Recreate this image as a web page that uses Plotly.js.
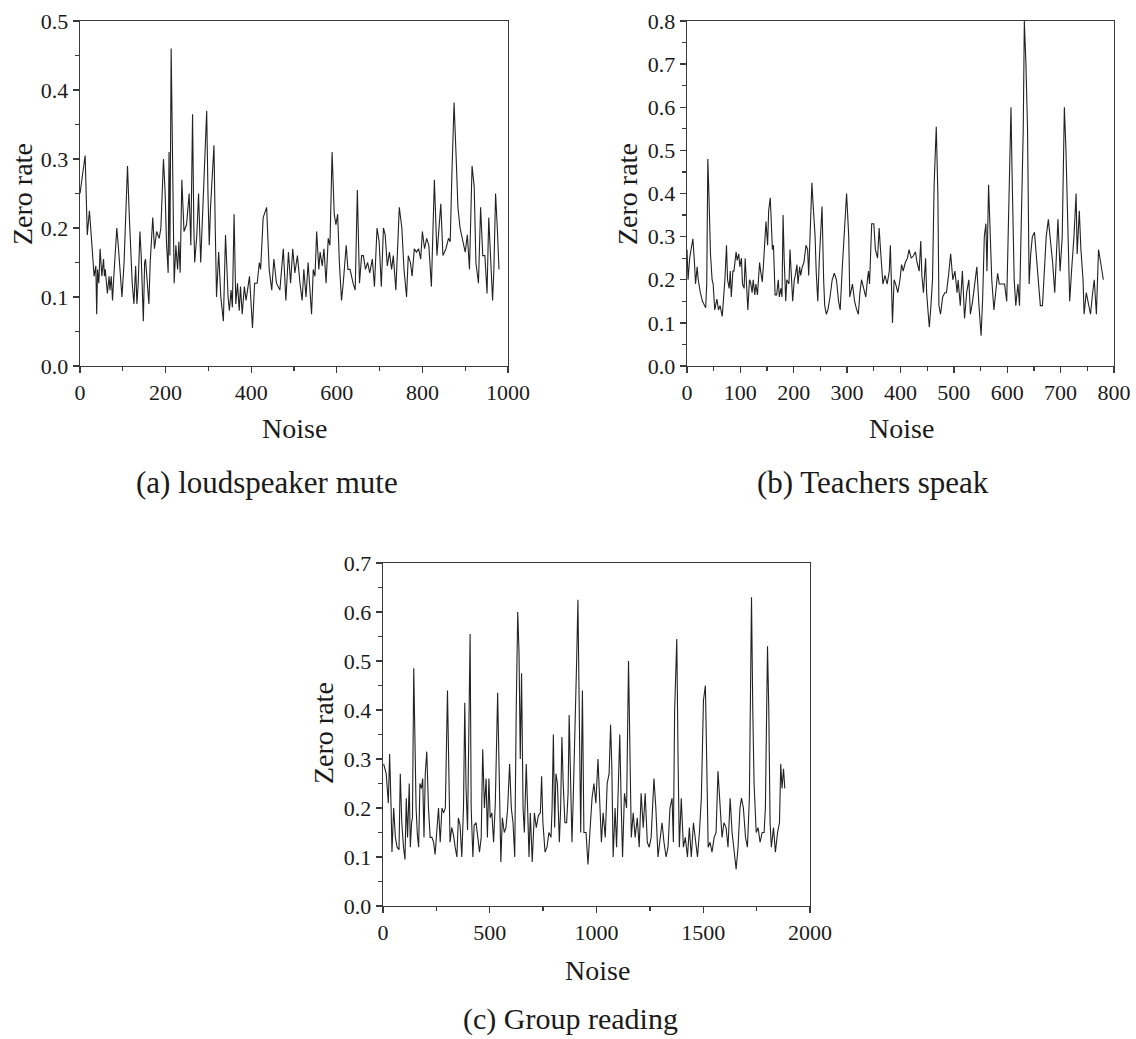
<!DOCTYPE html>
<html>
<head>
<meta charset="utf-8">
<script src="https://cdn.plot.ly/plotly-3.0.1.min.js"></script>
<style>
  html, body { margin: 0; padding: 0; background: #ffffff; }
  #chart { width: 1136px; height: 1039px; }
</style>
</head>
<body>
<div id="chart"></div>
<script>
// ---------- Data ----------
const titles = ["(a) loudspeaker mute", "(b) Teachers speak", "(c) Group reading"];
const xTitle = "Noise";
const yTitle = "Zero rate";

const aNoise = [
  0,12,17,22,25,30,33,37,39,41,
  44,47,51,55,57,59,64,68,70,73,
  76,79,86,90,95,98,103,111,115,119,
  122,126,130,133,136,140,143,148,151,153,
  157,161,164,170,174,179,185,189,195,199,
  202,206,208,210,213,217,220,224,228,231,
  234,238,243,249,255,259,263,266,268,273,
  277,282,286,290,293,296,299,302,305,313,
  316,319,324,329,335,340,346,349,353,356,
  360,364,368,372,375,379,384,388,396,403,
  408,414,419,422,428,436,442,448,453,459,
  467,475,481,487,492,497,502,508,514,519,
  523,528,533,536,541,545,549,553,558,561,
  566,570,575,580,584,589,594,598,602,606,
  611,615,622,626,631,638,643,648,653,658,
  662,667,672,677,683,688,694,699,704,709,
  713,718,723,728,732,738,742,746,752,757,
  763,767,772,776,781,786,791,796,800,805,
  810,815,821,828,834,839,843,848,855,861,
  865,869,874,879,883,888,894,900,905,910,
  916,921,925,931,936,941,946,951,955,960,
  964,967,971,975,979
];
const aZero = [
  0.25,0.305,0.19,0.225,0.2,0.15,0.13,0.145,0.075,0.14,
  0.12,0.17,0.13,0.155,0.13,0.14,0.105,0.13,0.11,0.13,
  0.095,0.13,0.2,0.17,0.12,0.1,0.15,0.29,0.22,0.15,
  0.12,0.09,0.145,0.09,0.12,0.195,0.16,0.065,0.15,0.155,
  0.12,0.09,0.15,0.215,0.17,0.195,0.185,0.2,0.3,0.25,
  0.18,0.135,0.31,0.16,0.46,0.3,0.12,0.175,0.14,0.18,
  0.135,0.27,0.195,0.205,0.25,0.175,0.365,0.2,0.15,0.19,
  0.25,0.15,0.21,0.255,0.3,0.37,0.25,0.175,0.23,0.32,
  0.2,0.1,0.165,0.1,0.065,0.19,0.1,0.08,0.11,0.085,
  0.22,0.09,0.12,0.08,0.115,0.075,0.115,0.095,0.13,0.055,
  0.12,0.12,0.15,0.14,0.215,0.23,0.14,0.11,0.155,0.12,
  0.11,0.17,0.095,0.165,0.12,0.17,0.135,0.16,0.12,0.095,
  0.14,0.1,0.15,0.125,0.075,0.14,0.13,0.195,0.14,0.165,
  0.145,0.17,0.12,0.185,0.175,0.31,0.22,0.205,0.22,0.15,
  0.095,0.12,0.175,0.14,0.14,0.12,0.11,0.255,0.12,0.16,
  0.16,0.14,0.15,0.135,0.155,0.115,0.2,0.18,0.115,0.2,
  0.19,0.145,0.165,0.14,0.16,0.11,0.17,0.23,0.2,0.14,
  0.1,0.16,0.15,0.13,0.17,0.165,0.17,0.155,0.195,0.17,
  0.185,0.175,0.115,0.27,0.16,0.2,0.235,0.16,0.17,0.185,
  0.18,0.28,0.382,0.3,0.23,0.2,0.18,0.165,0.19,0.14,
  0.29,0.26,0.15,0.12,0.23,0.16,0.16,0.105,0.215,0.15,
  0.095,0.14,0.25,0.2,0.14
];

const bNoise = [
  0,2,5,9,11,14,16,19,21,25,
  29,33,35,37,39,41,44,47,49,52,
  56,59,62,66,68,71,74,76,79,81,
  83,86,88,92,94,97,99,102,104,107,
  109,112,114,117,119,122,124,127,129,132,
  136,138,141,143,146,148,151,153,156,158,
  160,162,165,168,171,173,176,178,180,182,
  185,187,191,193,196,198,201,203,206,208,
  211,213,216,219,223,226,228,231,234,236,
  240,242,245,248,251,253,256,258,261,264,
  268,272,276,280,284,287,291,295,299,303,
  305,310,314,318,321,324,327,331,335,338,
  340,342,346,350,353,357,360,362,365,367,
  371,375,379,381,385,388,391,395,399,402,
  405,409,413,416,420,424,428,431,435,438,
  440,443,447,449,452,454,457,460,463,467,
  470,472,475,479,483,486,490,494,498,502,
  506,508,512,516,520,524,528,531,535,539,
  543,547,551,554,557,560,562,565,568,571,
  575,579,582,585,590,595,599,603,607,609,
  613,616,620,623,627,630,632,635,638,641,
  644,647,651,655,658,662,666,670,673,677,
  681,685,689,693,695,699,703,707,710,713,
  717,721,725,729,731,735,738,742,744,748,
  752,756,760,763,767,771,775,780
];
const bZero = [
  0.27,0.2,0.25,0.28,0.295,0.24,0.19,0.23,0.2,0.17,
  0.15,0.14,0.135,0.19,0.48,0.4,0.26,0.2,0.19,0.13,
  0.155,0.13,0.14,0.115,0.15,0.2,0.28,0.2,0.18,0.22,
  0.16,0.22,0.22,0.265,0.245,0.26,0.23,0.25,0.19,0.18,
  0.25,0.175,0.13,0.2,0.195,0.17,0.2,0.165,0.19,0.165,
  0.24,0.22,0.195,0.23,0.3,0.335,0.28,0.36,0.39,0.3,
  0.27,0.28,0.165,0.165,0.2,0.16,0.18,0.16,0.35,0.25,
  0.15,0.2,0.19,0.27,0.2,0.15,0.2,0.21,0.235,0.19,
  0.23,0.21,0.23,0.24,0.28,0.27,0.21,0.3,0.425,0.38,
  0.3,0.22,0.15,0.25,0.34,0.37,0.2,0.14,0.12,0.13,
  0.16,0.2,0.215,0.2,0.15,0.13,0.23,0.32,0.4,0.3,
  0.16,0.19,0.15,0.13,0.12,0.17,0.2,0.18,0.16,0.2,
  0.22,0.19,0.33,0.33,0.27,0.25,0.32,0.28,0.23,0.19,
  0.21,0.19,0.22,0.28,0.1,0.2,0.19,0.17,0.2,0.235,
  0.22,0.24,0.25,0.27,0.25,0.255,0.265,0.24,0.22,0.29,
  0.21,0.17,0.25,0.17,0.12,0.09,0.14,0.2,0.42,0.555,
  0.4,0.14,0.12,0.16,0.17,0.17,0.21,0.26,0.2,0.22,
  0.17,0.2,0.14,0.22,0.11,0.17,0.2,0.12,0.15,0.19,
  0.23,0.14,0.07,0.16,0.3,0.33,0.22,0.42,0.3,0.2,
  0.13,0.18,0.215,0.19,0.19,0.19,0.15,0.35,0.6,0.45,
  0.2,0.14,0.19,0.14,0.35,0.55,0.8,0.7,0.55,0.19,
  0.26,0.3,0.31,0.24,0.2,0.14,0.14,0.22,0.3,0.34,
  0.29,0.24,0.17,0.3,0.34,0.22,0.3,0.6,0.5,0.35,
  0.15,0.23,0.3,0.4,0.26,0.36,0.27,0.2,0.12,0.17,
  0.14,0.12,0.17,0.2,0.12,0.27,0.24,0.2
];

const cNoise = [
  3,15,25,31,38,42,50,58,66,75,
  81,88,96,103,109,115,123,128,134,138,
  144,150,155,161,167,173,180,186,192,198,
  205,213,221,229,237,244,252,260,268,276,
  284,292,302,308,314,322,330,338,346,353,
  361,369,377,383,389,396,402,408,413,421,
  427,436,444,452,460,467,475,483,489,496,
  502,510,518,526,537,545,552,559,568,576,
  584,593,601,609,617,624,631,637,643,649,
  656,662,671,678,684,690,699,709,718,728,
  737,743,749,759,768,777,787,792,798,804,
  810,817,826,832,838,844,852,860,867,872,
  878,885,891,899,907,913,919,926,934,941,
  951,960,969,979,988,997,1007,1016,1023,1031,
  1041,1050,1059,1066,1072,1078,1087,1094,1103,1109,
  1116,1122,1131,1141,1150,1157,1163,1172,1181,1191,
  1200,1209,1219,1228,1238,1247,1256,1269,1278,1288,
  1297,1307,1316,1326,1335,1344,1354,1360,1366,1376,
  1382,1388,1397,1407,1416,1426,1435,1444,1454,1463,
  1473,1482,1491,1501,1510,1516,1523,1532,1541,1551,
  1560,1569,1579,1588,1597,1607,1616,1626,1635,1644,
  1654,1663,1672,1679,1688,1698,1707,1716,1726,1732,
  1738,1748,1757,1766,1776,1785,1791,1801,1807,1813,
  1819,1829,1838,1848,1857,1863,1869,1876,1882
];
const cZero = [
  0.29,0.27,0.21,0.31,0.2,0.11,0.2,0.14,0.12,0.115,
  0.27,0.17,0.12,0.095,0.22,0.14,0.25,0.12,0.17,0.18,
  0.485,0.35,0.2,0.145,0.12,0.25,0.24,0.26,0.14,0.27,
  0.315,0.2,0.14,0.14,0.13,0.105,0.16,0.2,0.13,0.2,
  0.19,0.2,0.44,0.3,0.13,0.16,0.145,0.12,0.1,0.18,
  0.165,0.1,0.2,0.415,0.24,0.155,0.41,0.555,0.2,0.1,
  0.165,0.17,0.14,0.11,0.14,0.32,0.2,0.26,0.14,0.26,
  0.18,0.19,0.13,0.21,0.435,0.2,0.09,0.18,0.15,0.16,
  0.2,0.29,0.2,0.17,0.1,0.4,0.6,0.52,0.3,0.475,
  0.2,0.15,0.29,0.19,0.1,0.19,0.09,0.19,0.16,0.185,
  0.19,0.265,0.17,0.11,0.12,0.15,0.14,0.2,0.35,0.16,
  0.27,0.25,0.13,0.2,0.345,0.25,0.17,0.17,0.23,0.39,
  0.28,0.13,0.22,0.4,0.5,0.625,0.4,0.15,0.44,0.15,
  0.15,0.085,0.15,0.22,0.25,0.21,0.3,0.2,0.13,0.19,
  0.14,0.25,0.27,0.37,0.28,0.1,0.2,0.12,0.26,0.35,
  0.2,0.1,0.23,0.2,0.5,0.3,0.14,0.19,0.14,0.18,
  0.12,0.23,0.16,0.23,0.13,0.12,0.14,0.26,0.2,0.1,
  0.14,0.17,0.13,0.1,0.12,0.2,0.22,0.13,0.4,0.545,
  0.3,0.12,0.22,0.12,0.14,0.1,0.16,0.1,0.17,0.13,
  0.1,0.15,0.22,0.42,0.45,0.3,0.12,0.13,0.11,0.14,
  0.15,0.275,0.2,0.14,0.17,0.16,0.12,0.22,0.15,0.12,
  0.075,0.12,0.2,0.22,0.2,0.14,0.12,0.22,0.63,0.4,
  0.25,0.15,0.16,0.13,0.15,0.15,0.2,0.53,0.4,0.17,
  0.12,0.16,0.11,0.15,0.17,0.29,0.24,0.28,0.24
];

// ---------- Layout helpers ----------
const W = 1136, H = 1039;
const FONT = "'Liberation Serif', 'Times New Roman', Times, serif";
const INK = "#1a1a1a";
const AXC = "#3a3a3a";

function px(x) { return x / W; }
function py(y) { return 1 - y / H; }

function axis(domain, range, dtick, minorDtick, anchor, fmt) {
  return {
    domain: domain, range: range, anchor: anchor,
    tick0: 0, dtick: dtick, tickformat: fmt,
    ticks: "outside", ticklen: 6, tickwidth: 1.3, tickcolor: AXC,
    showline: true, linecolor: AXC, linewidth: 1.3, mirror: true,
    showgrid: false, zeroline: false,
    tickfont: { family: FONT, size: 22, color: INK },
    minor: { ticks: "outside", ticklen: 4, tickwidth: 1.3, tickcolor: AXC, dtick: minorDtick, showgrid: false },
    fixedrange: true
  };
}

// plot-area boxes in pixels [left, right, top, bottom]
const boxA = [80, 508, 21, 366];
const boxB = [687, 1114, 21, 366];
const boxC = [383, 810, 563, 906];

function dx(b) { return [px(b[0]), px(b[1])]; }
function dy(b) { return [py(b[3]), py(b[2])]; }

const lineStyle = { color: "#222222", width: 1.1 };

const traces = [
  { x: aNoise, y: aZero, xaxis: "x", yaxis: "y", type: "scatter", mode: "lines", line: lineStyle, hoverinfo: "x+y" },
  { x: bNoise, y: bZero, xaxis: "x2", yaxis: "y2", type: "scatter", mode: "lines", line: lineStyle, hoverinfo: "x+y" },
  { x: cNoise, y: cZero, xaxis: "x3", yaxis: "y3", type: "scatter", mode: "lines", line: lineStyle, hoverinfo: "x+y" }
];

function ann(text, x, y, size, angle) {
  return {
    text: text, xref: "paper", yref: "paper", x: px(x), y: py(y),
    xanchor: "center", yanchor: "middle", showarrow: false,
    textangle: angle || 0,
    font: { family: FONT, size: size, color: INK }
  };
}

const layout = {
  width: W, height: H,
  margin: { l: 0, r: 0, t: 0, b: 0 },
  paper_bgcolor: "#ffffff", plot_bgcolor: "#ffffff",
  showlegend: false,
  xaxis:  axis(dx(boxA), [0, 1000], 200, 100, "y", "d"),
  yaxis:  axis(dy(boxA), [0, 0.5], 0.1, 0.05, "x", ".1f"),
  xaxis2: axis(dx(boxB), [0, 800], 100, 50, "y2", "d"),
  yaxis2: axis(dy(boxB), [0, 0.8], 0.1, 0.05, "x2", ".1f"),
  xaxis3: axis(dx(boxC), [0, 2000], 500, 250, "y3", "d"),
  yaxis3: axis(dy(boxC), [0, 0.7], 0.1, 0.05, "x3", ".1f"),
  annotations: [
    ann(yTitle, 23, 194, 28, -90),
    ann(xTitle, 294, 429, 28),
    ann(titles[0], 267, 483, 31),
    ann(yTitle, 628, 194, 28, -90),
    ann(xTitle, 901, 428, 28),
    ann(titles[1], 873, 483, 31),
    ann(yTitle, 323, 733, 28, -90),
    ann(xTitle, 597, 970, 28),
    ann(titles[2], 570, 1019, 30)
  ]
};

Plotly.newPlot("chart", traces, layout, { displayModeBar: false, staticPlot: true });
</script>
</body>
</html>
